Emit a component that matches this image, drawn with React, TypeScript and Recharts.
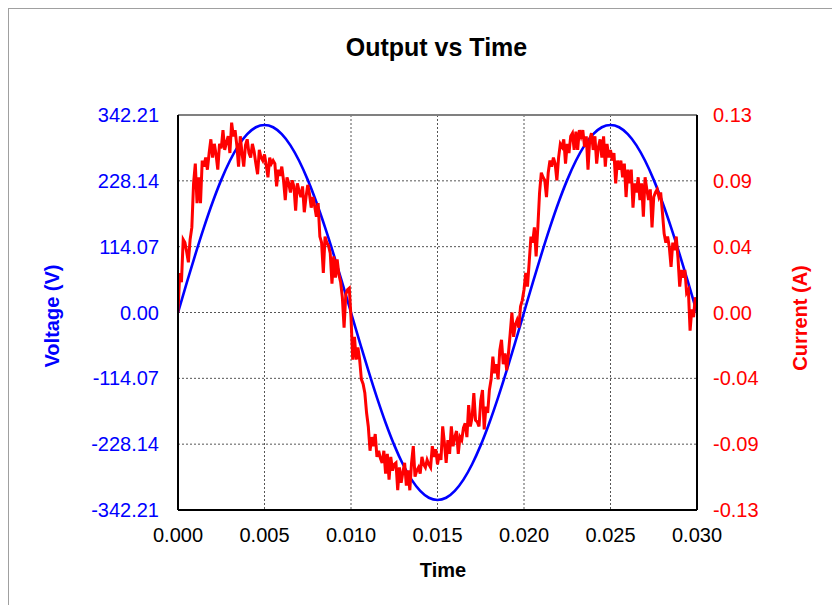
import { LineChart, Line, XAxis, YAxis, CartesianGrid, ReferenceLine } from 'recharts';

const FONT = '"Liberation Sans", Arial, sans-serif';

// sampling of the traces
const SAMPLE_STEP = 0.0001; // s between current samples
const VOLTAGE_EVERY = 5; // one voltage sample every 5 current samples

const TIME_TICKS = [0, 0.005, 0.01, 0.015, 0.02, 0.025, 0.03];
const VOLTAGE_TICKS = [-342.21, -228.14, -114.07, 0, 114.07, 228.14, 342.21];
const CURRENT_TICKS = [-0.13, -0.08667, -0.04333, 0, 0.04333, 0.08667, 0.13];

// voltage read every 0.0005 s
const VOLTAGE_V = [
  0, 50.8, 100.4, 147.5, 191.0, 229.8, 262.9, 289.6, 309.1, 321.0,
  325.0, 321.0, 309.1, 289.6, 262.9, 229.8, 191.0, 147.5, 100.4, 50.8,
  0, -50.8, -100.4, -147.5, -191.0, -229.8, -262.9, -289.6, -309.1, -321.0,
  -325.0, -321.0, -309.1, -289.6, -262.9, -229.8, -191.0, -147.5, -100.4, -50.8,
  0, 50.8, 100.4, 147.5, 191.0, 229.8, 262.9, 289.6, 309.1, 321.0,
  325.0, 321.0, 309.1, 289.6, 262.9, 229.8, 191.0, 147.5, 100.4, 50.8,
  0,
];

// current read every 0.0001 s
const CURRENT_A = [
  0.000, 0.026, 0.020, 0.048, 0.046, 0.040, 0.033, 0.048, 0.056, 0.085,
  0.098, 0.072, 0.089, 0.072, 0.100, 0.096, 0.102, 0.094, 0.105, 0.114,
  0.102, 0.111, 0.104, 0.094, 0.111, 0.108, 0.120, 0.107, 0.112, 0.116,
  0.105, 0.125, 0.116, 0.120, 0.110, 0.096, 0.116, 0.105, 0.096, 0.110,
  0.114, 0.105, 0.102, 0.111, 0.106, 0.098, 0.091, 0.107, 0.102, 0.100,
  0.104,
  0.097, 0.089, 0.102, 0.098, 0.100, 0.098, 0.083, 0.094, 0.090, 0.096,
  0.087, 0.074, 0.089, 0.085, 0.079, 0.087, 0.083, 0.067, 0.085, 0.080,
  0.076, 0.083, 0.066, 0.076, 0.084, 0.078, 0.069, 0.076, 0.070, 0.063,
  0.072, 0.050, 0.046, 0.026, 0.050, 0.046, 0.044, 0.039, 0.019, 0.037,
  0.023, 0.035, 0.025, 0.020, 0.010, -0.010, 0.012, 0.015, 0.016, -0.003,
  -0.031, -0.016, -0.031, -0.023, -0.031, -0.044, -0.047, -0.053, -0.066, -0.075,
  -0.091, -0.082, -0.088, -0.080, -0.095, -0.091, -0.096, -0.099, -0.091, -0.106,
  -0.093, -0.110, -0.095, -0.104, -0.100, -0.099, -0.117, -0.102, -0.112, -0.105,
  -0.099, -0.114, -0.104, -0.117, -0.099, -0.088, -0.108, -0.104, -0.102, -0.106,
  -0.095, -0.100, -0.102, -0.097, -0.100, -0.102, -0.088, -0.095, -0.090, -0.100,
  -0.093, -0.097, -0.075, -0.086, -0.099, -0.084, -0.093, -0.075, -0.088, -0.082,
  -0.078, -0.093, -0.082, -0.084, -0.076, -0.073, -0.082, -0.061, -0.075, -0.069,
  -0.053, -0.071, -0.072, -0.075, -0.058, -0.051, -0.077, -0.062, -0.066, -0.051,
  -0.044, -0.029, -0.040, -0.034, -0.044, -0.025, -0.018, -0.034, -0.027, -0.038,
  -0.027, -0.014, 0.000, -0.016, -0.008, -0.005, -0.010, 0.004, 0.008, 0.015,
  0.026, 0.017, 0.033, 0.050, 0.046, 0.056, 0.037, 0.056, 0.079, 0.092,
  0.089, 0.087, 0.076, 0.092, 0.100, 0.096, 0.102, 0.098, 0.087, 0.102,
  0.111, 0.109, 0.114, 0.098, 0.111, 0.105, 0.116, 0.118, 0.107, 0.119,
  0.107, 0.120, 0.116, 0.120, 0.109, 0.116, 0.094, 0.114, 0.118, 0.107,
  0.116, 0.098, 0.109, 0.114, 0.102, 0.116, 0.096, 0.111, 0.102, 0.107,
  0.100, 0.105, 0.085, 0.100, 0.094, 0.100, 0.089, 0.098, 0.076, 0.094,
  0.085, 0.094, 0.069, 0.085, 0.079, 0.089, 0.074, 0.085, 0.063, 0.089,
  0.081, 0.074, 0.081, 0.056, 0.076, 0.079, 0.081, 0.076, 0.079, 0.066,
  0.052, 0.046, 0.050, 0.043, 0.030, 0.046, 0.041, 0.050, 0.036, 0.017,
  0.028, 0.023, 0.028, 0.013, 0.015, -0.012, 0.002, -0.003, 0.010, 0.006,
];

const data = CURRENT_A.map((current, i) => ({
  t: +(i * SAMPLE_STEP).toFixed(4),
  current,
  voltage: i % VOLTAGE_EVERY === 0 ? VOLTAGE_V[i / VOLTAGE_EVERY] : null,
}));

const axisLine = { stroke: '#000', strokeWidth: 2 };

export default function App() {
  return (
    <div style={{ position: 'fixed', left: 0, top: 0, width: 832, height: 605, background: '#fff', overflow: 'hidden', fontFamily: FONT }}>
      <div style={{ position: 'absolute', left: 8, top: 8, width: 840, height: 620, border: '1px solid #a0a0a0', boxSizing: 'border-box' }} />

      <div style={{ position: 'absolute', left: 0, width: 873, top: 34, textAlign: 'center', fontSize: 25, fontWeight: 'bold', lineHeight: '27px', color: '#000' }}>
        Output vs Time
      </div>

      <div style={{ position: 'absolute', left: 0, top: 0 }}>
        <LineChart width={832} height={605} data={data} margin={{ top: 115, right: 0, bottom: 0, left: 0 }}>
          <CartesianGrid yAxisId="v" stroke="#555" strokeDasharray="2 2" />
          <XAxis
            dataKey="t"
            type="number"
            domain={[0, 0.03]}
            ticks={TIME_TICKS}
            tickFormatter={(v: number) => v.toFixed(3)}
            height={95}
            tickLine={false}
            axisLine={axisLine}
            tickMargin={12}
            tick={{ fill: '#000', fontSize: 20, fontFamily: FONT }}
            allowDataOverflow
          />
          <YAxis
            yAxisId="v"
            orientation="left"
            width={178}
            domain={[-342.21, 342.21]}
            ticks={VOLTAGE_TICKS}
            tickFormatter={(v: number) => v.toFixed(2)}
            tickLine={false}
            axisLine={axisLine}
            tickMargin={13}
            tick={{ fill: '#0000ff', fontSize: 20, fontFamily: FONT }}
            allowDataOverflow
          />
          <YAxis
            yAxisId="i"
            orientation="right"
            width={135}
            domain={[-0.13, 0.13]}
            ticks={CURRENT_TICKS}
            tickFormatter={(v: number) => v.toFixed(2)}
            tickLine={false}
            axisLine={axisLine}
            tickMargin={10}
            tick={{ fill: '#ff0000', fontSize: 20, fontFamily: FONT }}
            allowDataOverflow
          />
          <ReferenceLine yAxisId="v" y={342.21} stroke="#808080" strokeWidth={2} />
          <Line
            yAxisId="v"
            dataKey="voltage"
            type="monotone"
            stroke="#0000ff"
            strokeWidth={2.6}
            dot={false}
            activeDot={false}
            connectNulls
            isAnimationActive={false}
          />
          <Line
            yAxisId="i"
            dataKey="current"
            type="linear"
            stroke="#ff0000"
            strokeWidth={3}
            dot={false}
            activeDot={false}
            isAnimationActive={false}
          />
        </LineChart>
      </div>

      <div style={{ position: 'absolute', left: 52, top: 316, transform: 'translate(-50%, -50%) rotate(-90deg)', whiteSpace: 'nowrap', fontSize: 20, fontWeight: 'bold', color: '#0000ff' }}>
        Voltage (V)
      </div>
      <div style={{ position: 'absolute', left: 800, top: 318, transform: 'translate(-50%, -50%) rotate(-90deg)', whiteSpace: 'nowrap', fontSize: 20, fontWeight: 'bold', color: '#ff0000' }}>
        Current (A)
      </div>
      <div style={{ position: 'absolute', left: 443, top: 570, transform: 'translate(-50%, -50%)', whiteSpace: 'nowrap', fontSize: 20, fontWeight: 'bold', color: '#000' }}>
        Time
      </div>
    </div>
  );
}
